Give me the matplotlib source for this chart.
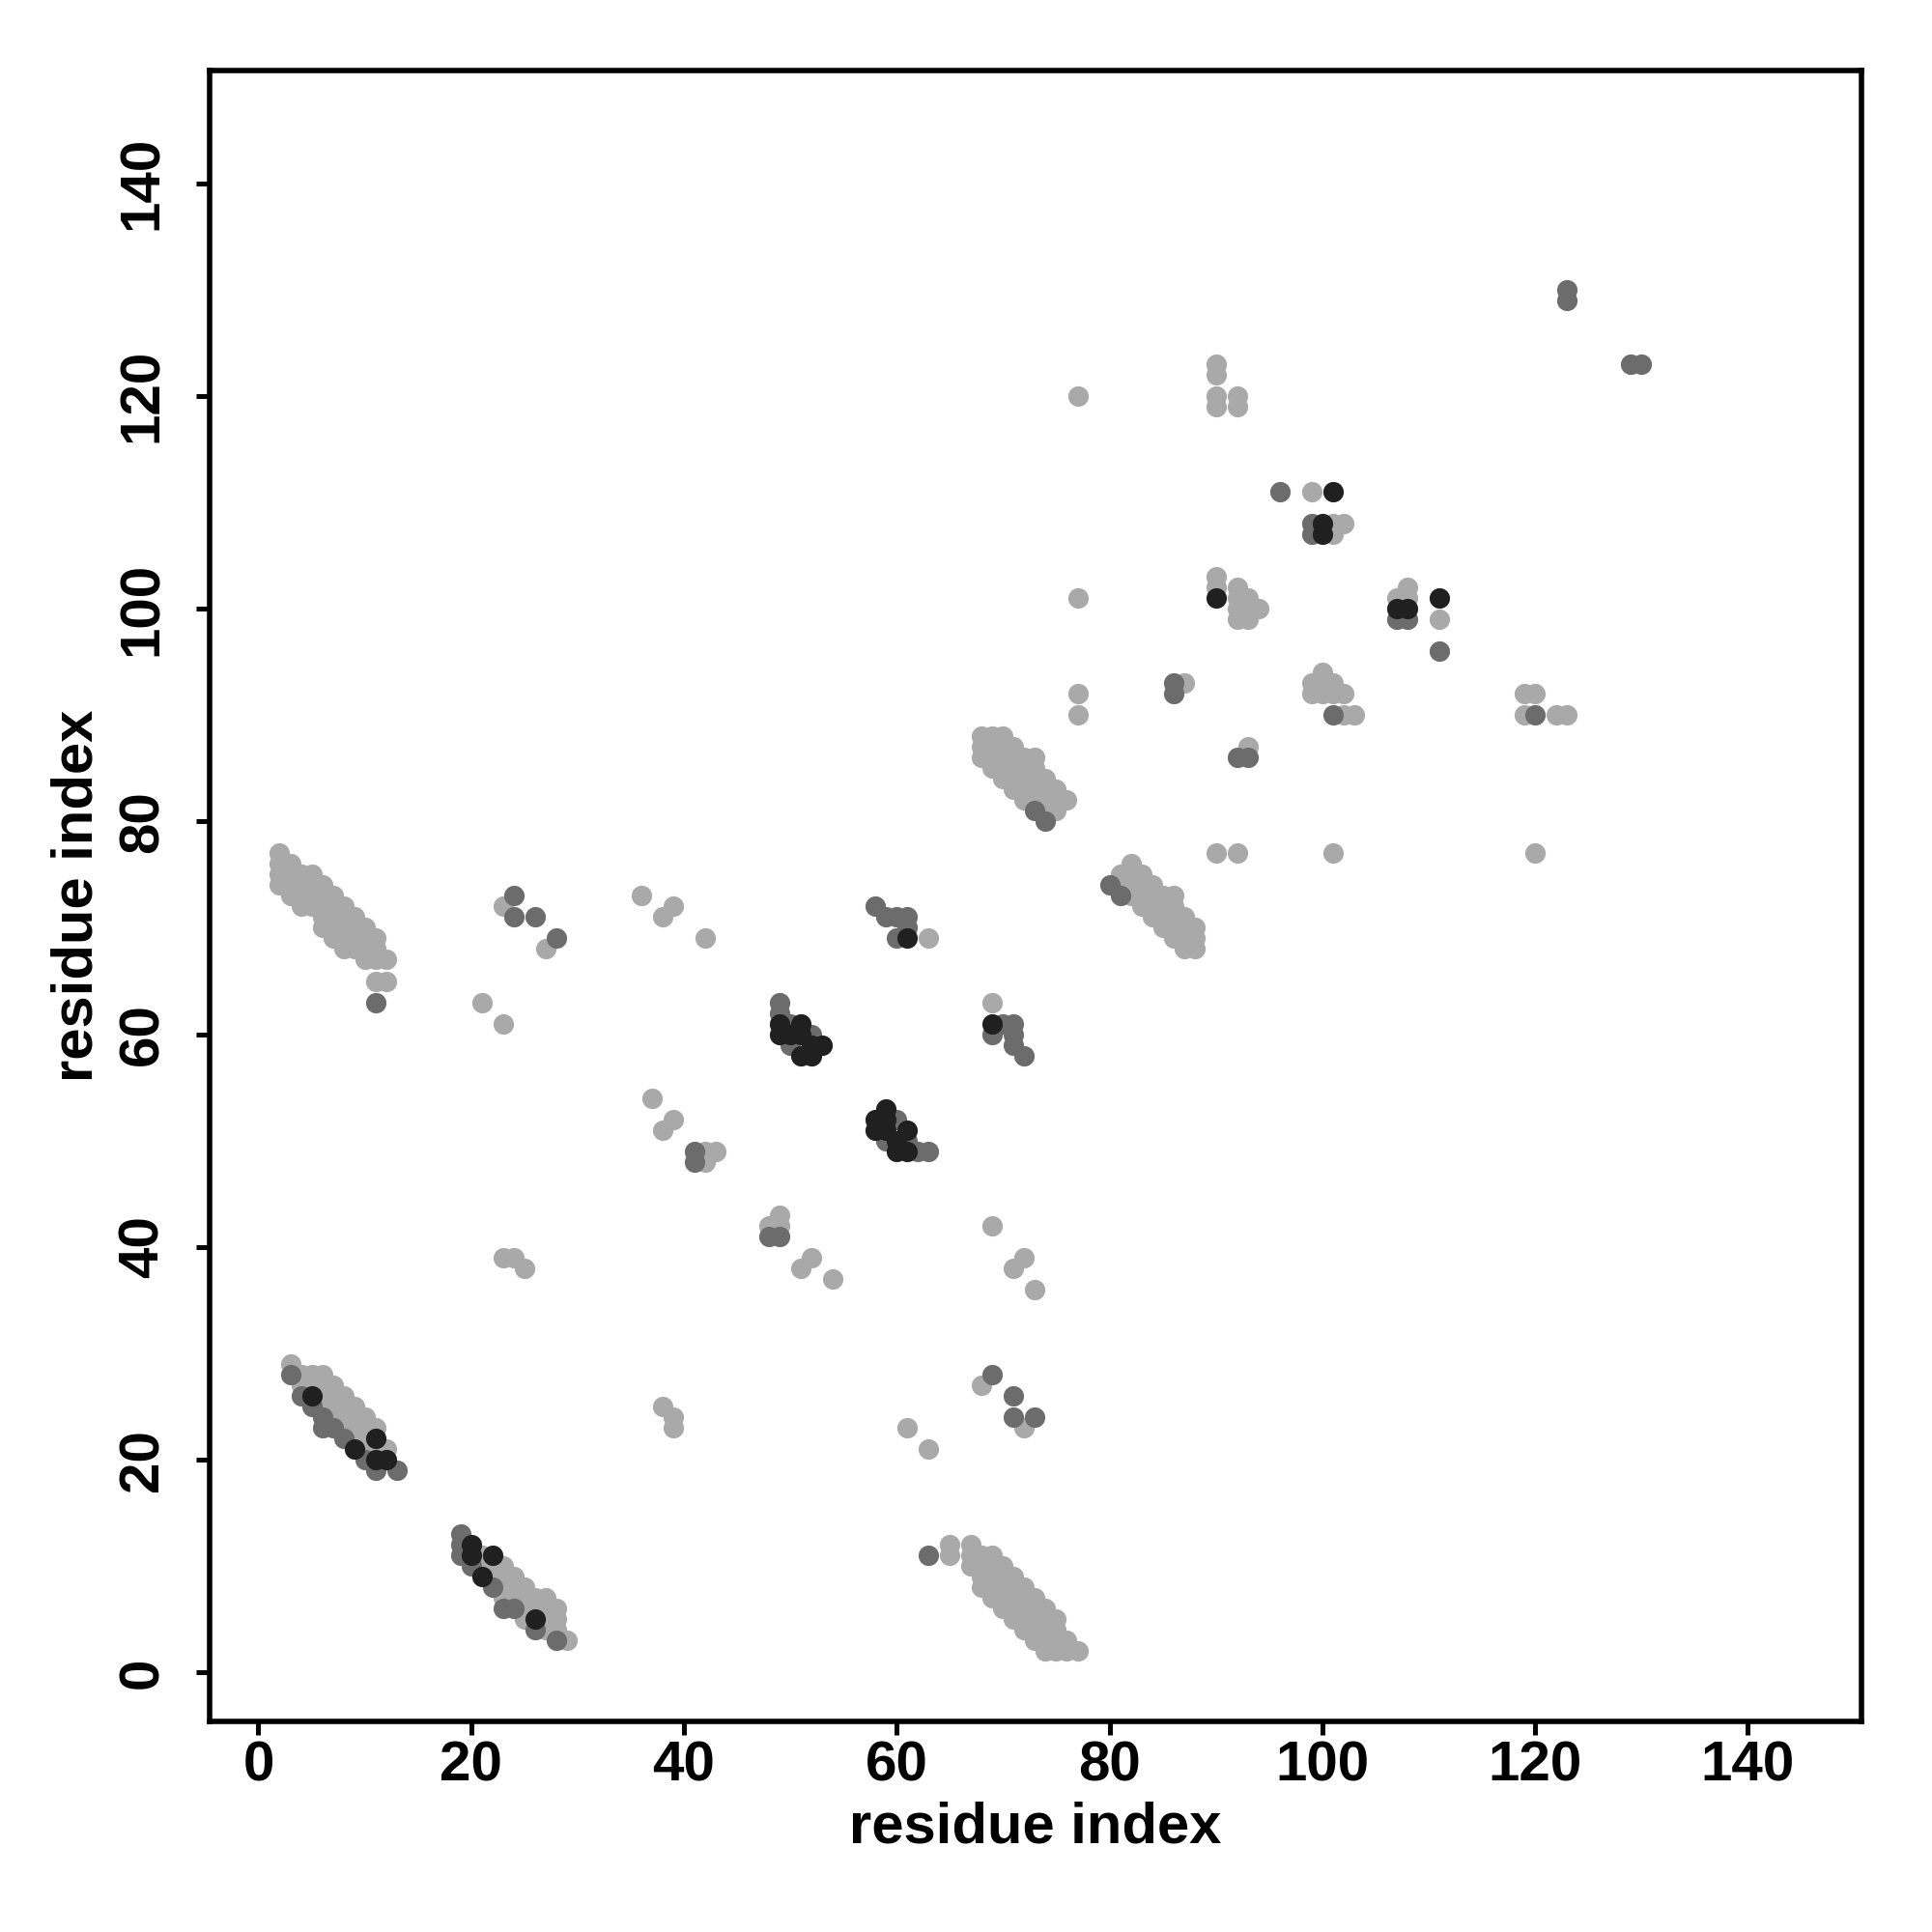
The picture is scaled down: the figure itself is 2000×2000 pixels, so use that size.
import matplotlib
matplotlib.use("Agg")
import matplotlib.pyplot as plt
import numpy as np

plt.rcParams['font.family'] = ['Liberation Sans', 'DejaVu Sans']
plt.rcParams['font.weight'] = 'bold'

# contacts drawn in light grey
light_pts = [
    # strand pair 2-12 / 63-77
    (2, 77), (2, 76), (2, 75), (2, 74), (3, 76), (3, 75), (3, 74), (3, 73),
    (4, 75), (4, 74), (4, 73), (4, 72), (5, 75), (5, 74), (5, 73), (5, 72),
    (6, 74), (6, 73), (6, 72), (6, 71), (6, 70), (7, 73), (7, 72), (7, 71), (7, 70), (7, 69),
    (8, 72), (8, 71), (8, 70), (8, 69), (8, 68), (9, 71), (9, 70), (9, 69), (9, 68),
    (10, 70), (10, 69), (10, 68), (10, 67), (11, 69), (11, 68), (11, 67), (11, 65),
    (12, 67), (12, 65),
    # strand pair 3-13 / 19-29
    (3, 29), (4, 28), (4, 27), (5, 28), (5, 27), (6, 28), (6, 27), (6, 26), (6, 25),
    (7, 27), (7, 26), (7, 25), (7, 24), (8, 26), (8, 25), (8, 24), (8, 23),
    (9, 25), (9, 24), (9, 23), (9, 22), (10, 24), (10, 23), (10, 22), (10, 21),
    (11, 23), (11, 21), (12, 21),
    # strand pair 19-29 / 3-13
    (21, 11), (21, 10), (22, 10), (22, 9), (23, 10), (23, 9), (23, 8), (23, 7),
    (24, 9), (24, 8), (24, 7), (25, 8), (25, 7), (25, 6), (25, 5),
    (26, 7), (26, 6), (27, 7), (27, 6), (27, 5), (27, 4), (28, 6), (28, 5), (28, 4), (29, 3),
    # strand pair 65-77 / 2-12
    (65, 12), (65, 11), (67, 12), (67, 11), (67, 10), (68, 11), (68, 10), (68, 9), (68, 8),
    (69, 11), (69, 10), (69, 9), (69, 8), (69, 7), (70, 10), (70, 9), (70, 8), (70, 7), (70, 6),
    (71, 9), (71, 8), (71, 7), (71, 6), (71, 5), (72, 8), (72, 7), (72, 6), (72, 5), (72, 4),
    (73, 7), (73, 6), (73, 5), (73, 4), (73, 3), (74, 6), (74, 5), (74, 4), (74, 3), (74, 2),
    (75, 5), (75, 4), (75, 3), (75, 2), (76, 3), (76, 2), (77, 2),
    # strand pair 68-76 / 80-88
    (68, 88), (68, 87), (68, 86), (69, 88), (69, 87), (69, 86), (69, 85),
    (70, 88), (70, 87), (70, 86), (70, 85), (70, 84), (71, 87), (71, 86), (71, 85), (71, 84), (71, 83),
    (72, 86), (72, 85), (72, 84), (72, 83), (72, 82), (73, 86), (73, 85), (73, 84), (73, 83), (73, 82),
    (74, 84), (74, 83), (74, 82), (74, 81), (75, 83), (75, 82), (75, 81), (76, 82),
    # strand pair 81-88 / 68-76
    (81, 75), (81, 74), (82, 76), (82, 75), (82, 74), (82, 73), (83, 75), (83, 74), (83, 73), (83, 72),
    (84, 74), (84, 73), (84, 72), (84, 71), (85, 73), (85, 72), (85, 71), (85, 70),
    (86, 73), (86, 72), (86, 71), (86, 70), (86, 69), (87, 71), (87, 70), (87, 69), (87, 68),
    (88, 70), (88, 69), (88, 68),
    # scattered contacts
    (21, 63), (23, 61), (23, 72), (27, 68), (36, 73), (38, 71), (39, 72), (42, 69),
    (37, 54), (39, 52), (38, 51), (42, 49), (43, 49), (42, 48), (48, 42), (49, 42), (49, 43),
    (23, 39), (24, 39), (25, 38), (51, 38), (52, 39), (54, 37), (38, 25), (39, 24), (39, 23),
    (61, 23), (63, 21), (69, 63), (69, 42), (72, 39), (71, 38), (73, 36), (68, 27), (72, 23),
    (63, 69), (77, 120), (90, 123), (90, 122), (90, 120), (90, 119), (92, 120), (92, 119),
    (99, 111), (101, 108), (101, 107), (102, 108), (90, 103), (90, 102),
    (92, 102), (92, 101), (92, 100), (92, 99), (93, 101), (93, 100), (93, 99), (94, 100),
    (107, 101), (108, 102), (108, 101), (111, 99), (87, 93), (77, 101), (77, 92), (77, 90),
    (100, 94), (99, 93), (100, 93), (101, 93), (99, 92), (100, 92), (101, 92), (102, 92),
    (102, 90), (103, 90), (93, 87), (90, 77), (92, 77), (101, 77),
    (119, 92), (120, 92), (119, 90), (122, 90), (123, 90), (120, 77),
]

# contacts drawn in mid grey
mid_pts = [
    (11, 63), (3, 28), (4, 26), (5, 25), (6, 24), (6, 23), (7, 23), (8, 22), (10, 20),
    (11, 19), (13, 19), (19, 13), (19, 12), (19, 11), (20, 10), (22, 8), (23, 6), (24, 6),
    (26, 4), (28, 3), (63, 11), (73, 81), (74, 80), (80, 74), (81, 73),
    (24, 73), (24, 71), (26, 71), (28, 69), (41, 49), (41, 48), (48, 41), (49, 41),
    (49, 63), (49, 62), (50, 61), (50, 59), (52, 60), (60, 52), (59, 50), (61, 50),
    (62, 49), (63, 49), (58, 72), (59, 71), (60, 71), (61, 71), (60, 69), (61, 70),
    (69, 60), (70, 61), (71, 61), (71, 60), (71, 59), (72, 58), (69, 28), (71, 26),
    (71, 24), (73, 24), (96, 111), (99, 108), (99, 107), (107, 99), (108, 99), (111, 96),
    (86, 93), (86, 92), (101, 90), (92, 86), (93, 86), (123, 130), (123, 129),
    (129, 123), (130, 123), (120, 90),
]

# contacts drawn in dark grey
dark_pts = [
    (5, 26), (9, 21), (11, 22), (12, 20), (11, 20), (20, 12), (20, 11), (21, 9), (22, 11),
    (26, 5), (49, 61), (49, 60), (51, 61), (51, 60), (50, 60), (53, 59), (51, 58), (52, 58),
    (52, 59), (59, 53), (58, 52), (58, 51), (59, 51), (59, 52), (61, 51), (60, 50), (60, 49),
    (61, 49), (61, 69), (69, 61), (101, 111), (100, 108), (100, 107), (90, 101),
    (107, 100), (108, 100), (111, 101),
]

ticks = [0, 20, 40, 60, 80, 100, 120, 140]

fig = plt.figure(figsize=(10, 10), dpi=200)
ax = fig.add_axes([0.1084, 0.109, 0.8552, 0.8546])

for pts, col in [(light_pts, '#a9a9a9'), (mid_pts, '#6c6c6c'), (dark_pts, '#202020')]:
    xs = [p[0] for p in pts]
    ys = [p[1] for p in pts]
    ax.scatter(xs, ys, s=58, c=col, linewidths=0, zorder=3)

ax.set_xlim(-4.6, 150.7)
ax.set_ylim(-4.6, 150.6)
ax.set_xticks(ticks)
ax.set_yticks(ticks)
ax.tick_params(axis='both', direction='out', length=5, width=1.8, labelsize=21)
ax.tick_params(axis='x', pad=2)
ax.tick_params(axis='y', pad=10)
for lab in ax.get_yticklabels():
    lab.set_rotation(90)
    lab.set_va('center')
for sp in ax.spines.values():
    sp.set_linewidth(2.0)

ax.set_xlabel('residue index', fontsize=21.5, fontweight='bold', va='center')
ax.set_ylabel('residue index', fontsize=21.5, fontweight='bold', va='center')
ax.xaxis.set_label_coords(0.5, -0.0645)
ax.yaxis.set_label_coords(-0.08, 0.5)

fig.savefig('out.png', dpi=200, facecolor='white')
